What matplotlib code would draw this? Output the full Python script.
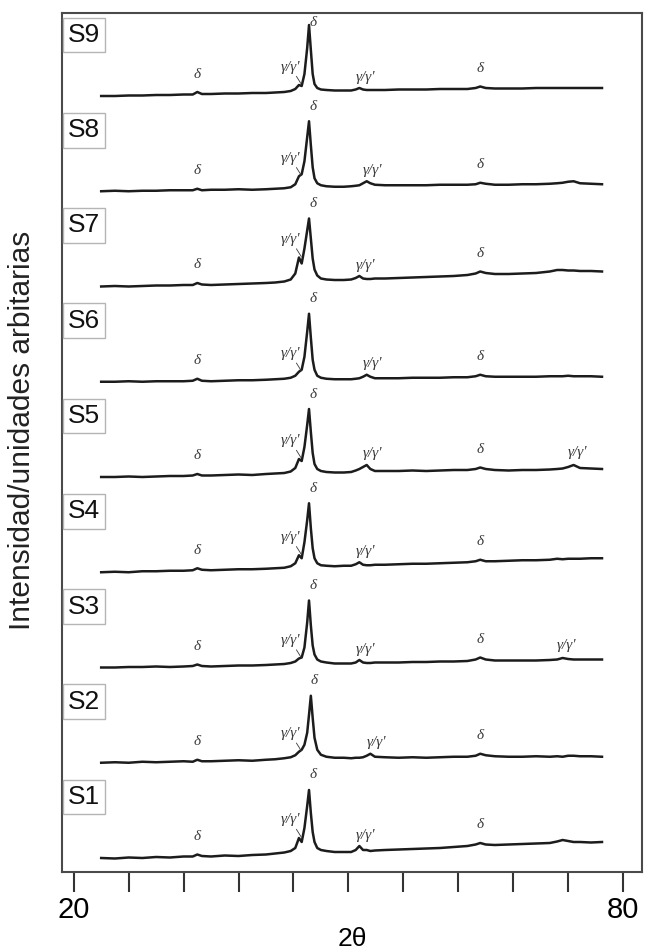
import matplotlib
matplotlib.use("Agg")
import matplotlib.pyplot as plt
import numpy as np

# 2-theta sampling positions (degrees), shared by all patterns
two_theta = [23.0, 24.5, 26.0, 27.5, 29.0, 30.5, 32.0, 33.0, 33.5, 34.0,
             35.0, 36.5, 38.0, 39.5, 41.0, 42.0, 43.0, 43.7, 44.2, 44.6,
             44.9, 45.2, 45.5, 45.7, 45.9, 46.1, 46.3, 46.6, 47.0, 47.6,
             48.5, 49.5, 50.3, 50.8, 51.2, 51.6, 52.0, 52.4, 52.9, 54.0,
             55.5, 57.0, 58.5, 60.0, 61.5, 63.0, 63.9, 64.4, 65.0, 66.0,
             67.5, 69.0, 70.5, 72.0, 72.8, 73.4, 74.0, 74.6, 75.3, 76.5,
             77.7]

samples = ["S1", "S2", "S3", "S4", "S5", "S6", "S7", "S8", "S9"]

# Diffracted intensity (arbitrary units), one list per sample
s1 = [0, -0.5, 0.5, 0, 1, 0.5, 1.5, 1.5, 3.5, 2,
      1.5, 2.5, 2, 3, 3.5, 4.5, 5.5, 7, 10, 20,
      16, 30, 52, 68, 45, 26, 16, 10, 8, 7,
      6, 6, 6, 8, 12, 8, 8, 7, 7.5, 8,
      8.5, 9, 9.5, 10, 11, 12, 13.5, 15, 13.5, 13,
      13.5, 14, 14.5, 15, 16.5, 18, 17, 16, 16, 15.5,
      16]
s2 = [0, 0.5, 0, 1, 0.5, 1, 1.5, 1, 3, 1.5,
      1.5, 2, 2.5, 2, 3, 3.5, 4.5, 5.5, 7.5, 11,
      13, 18, 30, 48, 67, 45, 25, 13, 8, 6,
      5, 5, 4.5, 5, 5, 5.5, 7, 9, 6, 5.5,
      5, 5.5, 5, 5.5, 6, 6, 7, 9, 7.5, 6.5,
      6, 6, 6.5, 6, 6.5, 6, 7, 7, 6.5, 6.5,
      6]
s3 = [0, 0, 0.5, 0.5, 1, 0.5, 1, 1.5, 3, 1.5,
      1, 1.5, 2, 2, 2.5, 3, 3.5, 4.5, 6, 9,
      10, 20, 45, 67, 42, 22, 13, 8, 6, 5,
      4, 4, 4, 5, 7.5, 5, 4.5, 4.5, 5, 5,
      5, 5.5, 5.5, 6, 6, 6.5, 8, 10, 8, 7,
      7, 7, 7, 7.5, 8, 9.5, 8.5, 8, 8, 8,
      8]
s4 = [0, 0.5, 0, 1, 1, 1.5, 1.5, 2, 4, 2.5,
      2, 2.5, 3, 3, 3.5, 4, 4.5, 6, 9, 17,
      14, 30, 52, 69, 44, 24, 14, 9, 7, 6.5,
      6, 6.5, 6.5, 8, 10, 7.5, 7, 7, 7.5, 7.5,
      8, 8.5, 8.5, 9, 9.5, 10, 11, 12.5, 11, 11,
      11.5, 12, 12, 12.5, 13.5, 13, 13.5, 13.5, 13.5, 14,
      14]
s5 = [0, 0, 0.5, 0, 0.5, 1, 1, 1.5, 3, 1.5,
      1.5, 2, 2.5, 2, 3, 3.5, 4, 5.5, 9, 18,
      16, 30, 52, 68, 45, 24, 13, 8, 6, 5,
      4.5, 4.5, 5, 6.5, 8, 10, 12, 8, 6, 6,
      6, 6.5, 6, 6.5, 7, 7, 8, 9.5, 8, 7,
      6.5, 7, 7, 7.5, 8, 8.5, 10, 12, 9, 8.5,
      8]
s6 = [0, 0, 0.5, 0, 0.5, 0.5, 0.5, 1, 3, 1,
      0.5, 1, 1.5, 1.5, 2, 2.5, 3, 4, 6, 10,
      12, 25, 50, 68, 44, 22, 12, 6, 4, 3,
      2.5, 2.5, 2.5, 3, 3.5, 5, 7, 5, 3.5, 3.5,
      3.5, 4, 4, 4, 4.5, 4.5, 5.5, 7, 5.5, 5,
      5, 5, 5, 5.5, 5.5, 5.5, 6, 5.5, 5.5, 5.5,
      5]
s7 = [0, 0.5, 0, 0.5, 1, 1, 1.5, 1.5, 3.5, 2,
      1.5, 2, 2.5, 3, 3.5, 4, 5, 7, 13, 29,
      23, 38, 56, 68, 48, 28, 17, 11, 8, 7,
      6.5, 6.5, 7, 8.5, 10.5, 8, 7.5, 7.5, 8, 8,
      8.5, 9, 9.5, 10, 10.5, 11.5, 13, 15, 13.5, 12.5,
      12.5, 13, 13.5, 15, 16.5, 16.5, 16, 16, 15.5, 15.5,
      15]
s8 = [0, 0.5, 0, 0.5, 0.5, 1, 1, 1, 2.5, 1,
      1.5, 1.5, 2, 1.5, 2, 2.5, 3, 4, 7, 15,
      17, 30, 54, 70, 46, 24, 13, 8, 6, 5,
      4.5, 4.5, 5, 5.5, 6, 8, 10, 8, 6.5, 6,
      6, 6, 6, 6.5, 6.5, 6.5, 7, 8.5, 7.5, 6.5,
      6.5, 7, 7, 7.5, 8, 8.5, 9.5, 10, 8, 7.5,
      7]
s9 = [0, 0, 0.5, 0.5, 1, 1, 1.5, 1.5, 4, 2,
      2, 2.5, 2.5, 3, 3, 3.5, 4, 5, 7, 11,
      10, 22, 48, 71, 46, 22, 12, 8, 6.5, 6,
      5.5, 5.5, 5.5, 6.5, 8, 6.5, 6, 6, 6, 6,
      6.5, 6.5, 6.5, 7, 7, 7, 8, 9.5, 8, 7.5,
      7.5, 7.5, 8, 8, 8, 8, 8, 8, 8, 8,
      8]
intensities = [s1, s2, s3, s4, s5, s6, s7, s8, s9]

# Phase assignments: main (110) peak, second gamma reflection, extra gamma peak
main_peak = [45.7, 45.9, 45.7, 45.7, 45.7, 45.7, 45.7, 45.7, 45.7]
gamma_peak = [51.2, 52.4, 51.2, 51.2, 52.0, 52.0, 51.2, 52.0, 51.2]
gamma_extra = [None, None, 73.4, None, 74.6, None, None, None, None]
delta_minor = [33.5, 64.4]
gamma_shoulder = 44.6

DELTA = "δ"
GAMMA = "γ/γ'"

fig = plt.figure(figsize=(6.52, 9.51), dpi=100)
ax = fig.add_axes([62 / 652, 1 - 872 / 951, 580 / 652, 859 / 951])

ax.set_xlim(18.72, 82.07)
ax.set_ylim(0, 859)
step = 95.25
base = 14

line_color = "#1c1c1c"
ann_kw = dict(fontsize=11, style="italic", color="#3a3a3a",
              family=["Liberation Serif", "DejaVu Serif"])

tt = np.array(two_theta)
for i, (name, vals) in enumerate(zip(samples, intensities)):
    off = base + i * step
    y = np.array(vals, dtype=float) + off
    ax.plot(tt, y, color=line_color, lw=1.8, solid_joinstyle="round")

    def at(x):
        return float(np.interp(x, tt, y))

    # minor delta reflections
    for xd in delta_minor:
        ax.text(xd, at(xd) + 18, DELTA, ha="center", va="center", **ann_kw)
    # shoulder on the low-angle side of the main peak
    ys = at(gamma_shoulder)
    ax.annotate(GAMMA, xy=(gamma_shoulder + 0.25, ys + 1),
                xytext=(gamma_shoulder + 0.15, ys + 18),
                ha="right", va="center",
                arrowprops=dict(arrowstyle="-", lw=0.6, color="#3a3a3a",
                                shrinkA=0, shrinkB=0),
                **ann_kw)
    # main delta peak
    yp = at(main_peak[i])
    ax.text(main_peak[i] + 0.4, min(yp + 15, 850), DELTA,
            ha="center", va="center", **ann_kw)
    # second gamma reflection
    yg = at(gamma_peak[i])
    ax.text(gamma_peak[i] - 0.4, yg + 11, GAMMA, ha="left", va="center",
            **ann_kw)
    if gamma_extra[i] is not None:
        ye = at(gamma_extra[i])
        ax.text(gamma_extra[i] - 0.6, ye + 12, GAMMA, ha="left",
                va="center", **ann_kw)

    # sample tag
    ax.annotate(name, xy=(0, off + 61), xycoords=("axes fraction", "data"),
                xytext=(4.2, 0), textcoords="offset points",
                ha="left", va="center", fontsize=19,
                family=["Liberation Sans", "DejaVu Sans"], color="#111111",
                bbox=dict(boxstyle="square,pad=0.2", fc="white",
                          ec="#b5b5b5", lw=1.0))

# axes frame and ticks
for sp in ax.spines.values():
    sp.set_color("#4a4a4a")
    sp.set_linewidth(1.5)

xt = list(range(20, 81, 6))
ax.set_xticks(xt)
ax.set_xticklabels([str(v) if v in (20, 80) else "" for v in xt],
                   fontsize=21, family=["Liberation Sans", "DejaVu Sans"])
ax.tick_params(axis="x", direction="out", length=14.5, width=1.5,
               color="#333333", pad=3)
ax.set_yticks([])

ax.set_xlabel("2θ", fontsize=19, family=["Liberation Sans", "DejaVu Sans"],
              labelpad=2)
fig.text(22 / 652, 1 - 430 / 951, "Intensidad/unidades arbitarias",
         rotation=90, ha="center", va="center", fontsize=21.5,
         family=["Liberation Sans", "DejaVu Sans"], color="#222222")

fig.savefig("out.png", dpi=100, facecolor="white")
